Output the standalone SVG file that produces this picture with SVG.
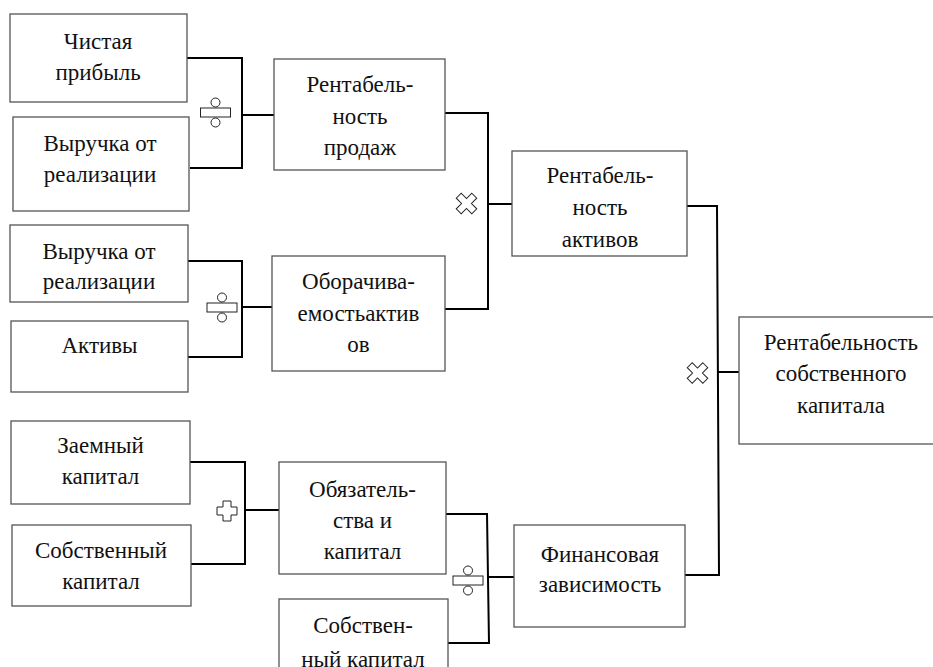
<svg xmlns="http://www.w3.org/2000/svg" xmlns:xlink="http://www.w3.org/1999/xlink" width="933" height="667" viewBox="0 0 933 667">
<style>
.box{fill:#fff;stroke:#555;stroke-width:1.3}
.lbl{font-family:'Liberation Serif','DejaVu Serif','Times New Roman',serif;font-size:23px;fill:#111;text-anchor:middle}
.con{fill:none;stroke:#000;stroke-width:2}
.op{fill:#fff;stroke:#222;stroke-width:1}
</style>
<defs>
<g id="divsym"><circle class="op" cx="0" cy="-10" r="4.5"/><rect class="op" x="-15" y="-4.5" width="30" height="9"/><circle class="op" cx="0" cy="10" r="4.5"/></g>
<path id="plussym" class="op" d="M-4,-10 H4 V-4 H10 V4 H4 V10 H-4 V4 H-10 V-4 H-4 Z"/>
<path id="crosssym" class="op" transform="rotate(45)" d="M-3.5,-11 H3.5 V-3.5 H11 V3.5 H3.5 V11 H-3.5 V3.5 H-11 V-3.5 H-3.5 Z"/>
</defs>
<rect width="933" height="667" fill="#fff"/>
<g id="connectors">
<polyline class="con" points="187,58 242,58 242,168 190,168"/>
<line class="con" x1="242" y1="115" x2="274" y2="115"/>
<polyline class="con" points="188,261 242,261 242,357 188,357"/>
<line class="con" x1="242" y1="307" x2="272" y2="307"/>
<polyline class="con" points="190,462 245,462 245,564 191,564"/>
<line class="con" x1="245" y1="510" x2="279" y2="510"/>
<polyline class="con" points="445,113 488,113 488,309 445,309"/>
<line class="con" x1="488" y1="204" x2="512" y2="204"/>
<polyline class="con" points="446,514 487,514 489,643 448,643"/>
<line class="con" x1="488" y1="577" x2="514" y2="577"/>
<polyline class="con" points="687,206 717,206 719,575 685,575"/>
<line class="con" x1="718" y1="372" x2="740" y2="372"/>
</g>
<g id="operators">
<use xlink:href="#divsym" x="215.5" y="112.5"/>
<use xlink:href="#divsym" x="222" y="307.5"/>
<use xlink:href="#divsym" x="468" y="580.5"/>
<use xlink:href="#plussym" x="227" y="511"/>
<use xlink:href="#crosssym" x="466.5" y="203.5"/>
<use xlink:href="#crosssym" x="697.5" y="373"/>
</g>
<g id="n-chistaya" font-family="Liberation Serif">
<rect class="box" x="10" y="14" width="177" height="88"/>
<text class="lbl" x="98" y="49">Чистая</text>
<text class="lbl" x="98" y="80">прибыль</text>
</g>
<g id="n-vyruchka1">
<rect class="box" x="13" y="117" width="176" height="94"/>
<text class="lbl" x="100" y="151">Выручка от</text>
<text class="lbl" x="100" y="182">реализации</text>
</g>
<g id="n-vyruchka2">
<rect class="box" x="10" y="225" width="178" height="77"/>
<text class="lbl" x="99" y="259">Выручка от</text>
<text class="lbl" x="99" y="289">реализации</text>
</g>
<g id="n-aktivy">
<rect class="box" x="11" y="321" width="177" height="71"/>
<text class="lbl" x="99.5" y="353">Активы</text>
</g>
<g id="n-zaemny">
<rect class="box" x="11" y="421" width="179" height="83"/>
<text class="lbl" x="100.5" y="453">Заемный</text>
<text class="lbl" x="100.5" y="484">капитал</text>
</g>
<g id="n-sobstv1">
<rect class="box" x="12" y="525" width="179" height="81"/>
<text class="lbl" x="101" y="558">Собственный</text>
<text class="lbl" x="101" y="589">капитал</text>
</g>
<g id="n-rent-prodazh">
<rect class="box" x="274" y="59" width="171" height="111"/>
<text class="lbl" x="360" y="92">Рентабель-</text>
<text class="lbl" x="360" y="124">ность</text>
<text class="lbl" x="360" y="155">продаж</text>
</g>
<g id="n-oborach">
<rect class="box" x="272" y="256" width="173" height="115"/>
<text class="lbl" x="358.5" y="289">Оборачива-</text>
<text class="lbl" x="358.5" y="321">емостьактив</text>
<text class="lbl" x="358.5" y="352">ов</text>
</g>
<g id="n-obyaz">
<rect class="box" x="279" y="462" width="167" height="112"/>
<text class="lbl" x="362.5" y="497">Обязатель-</text>
<text class="lbl" x="362.5" y="528">ства и</text>
<text class="lbl" x="362.5" y="559">капитал</text>
</g>
<g id="n-sobstv2">
<rect class="box" x="279" y="599" width="169" height="100"/>
<text class="lbl" x="363" y="633">Собствен-</text>
<text class="lbl" x="363" y="667">ный капитал</text>
</g>
<g id="n-rent-aktivov">
<rect class="box" x="512" y="151" width="175" height="105"/>
<text class="lbl" x="600" y="183">Рентабель-</text>
<text class="lbl" x="600" y="215">ность</text>
<text class="lbl" x="600" y="247">активов</text>
</g>
<g id="n-fin-zav">
<rect class="box" x="514" y="525" width="171" height="102"/>
<text class="lbl" x="600" y="562">Финансовая</text>
<text class="lbl" x="600" y="592">зависимость</text>
</g>
<g id="n-roe">
<rect class="box" x="739" y="317" width="206" height="127"/>
<text class="lbl" x="841" y="350">Рентабельность</text>
<text class="lbl" x="841" y="381">собственного</text>
<text class="lbl" x="841" y="413">капитала</text>
</g>
</svg>
